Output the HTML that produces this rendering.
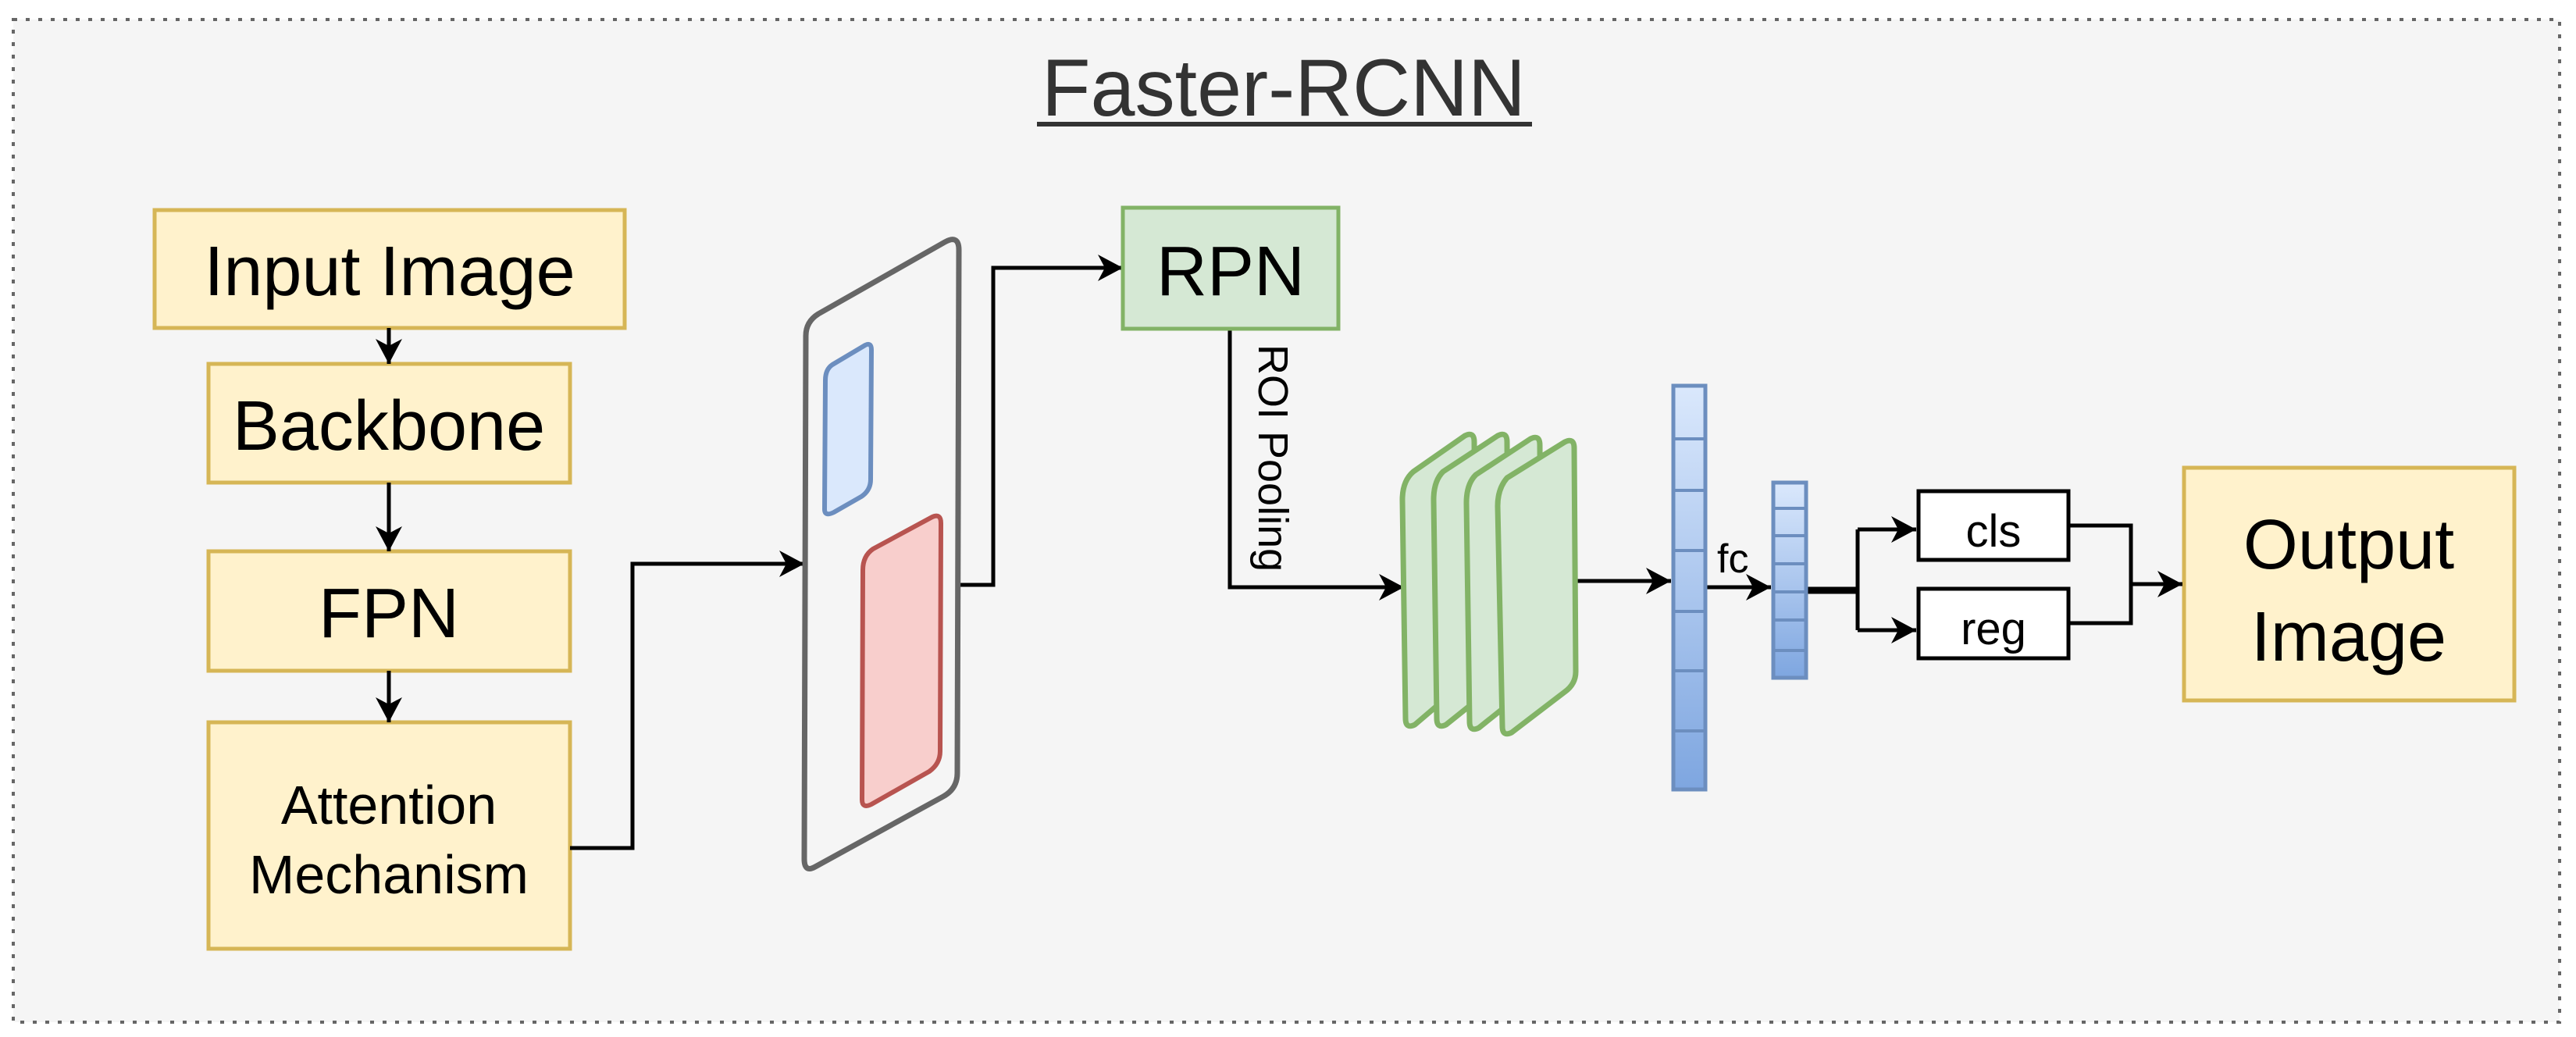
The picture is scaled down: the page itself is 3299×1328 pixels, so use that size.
<!DOCTYPE html>
<html><head><meta charset="utf-8"><style>html,body{margin:0;padding:0;background:#fff}svg{display:block}text{font-family:"Liberation Sans",Arial,sans-serif}</style></head>
<body>
<svg width="3299" height="1328" viewBox="0 0 3299 1328" xmlns="http://www.w3.org/2000/svg">
<defs>
<linearGradient id="g" x1="0" y1="0" x2="0" y2="1"><stop offset="0" stop-color="#dae8fc"/><stop offset="1" stop-color="#7ea6e0"/></linearGradient>
<marker id="a" markerUnits="userSpaceOnUse" markerWidth="40" markerHeight="40" viewBox="-34 -20 40 40" refX="0" refY="0" orient="auto"><path d="M0,0 L-32,-17 L-23,0 L-32,17 Z" fill="#000"/></marker>
</defs>
<rect x="17" y="25" width="3261" height="1284" fill="#f5f5f5" stroke="#666" stroke-width="4" stroke-dasharray="5 11"/>
<text x="1334" y="148" font-size="104" fill="#333" textLength="620" lengthAdjust="spacingAndGlyphs">Faster-RCNN</text>
<rect x="1328" y="156" width="634" height="6" fill="#333"/>

<g fill="#fff2cc" stroke="#d6b656" stroke-width="5">
<rect x="198" y="269" width="602" height="151"/>
<rect x="267" y="466" width="463" height="152"/>
<rect x="267" y="706" width="463" height="153"/>
<rect x="267" y="925" width="463" height="290"/>
<rect x="2797" y="599" width="423" height="298"/>
</g>
<g font-size="90" text-anchor="middle" fill="#000">
<text x="499" y="378">Input Image</text>
<text x="498" y="576">Backbone</text>
<text x="498" y="816">FPN</text>
<text x="498" y="1055" font-size="70">Attention</text>
<text x="498" y="1144" font-size="70">Mechanism</text>
<text x="3008" y="728">Output</text>
<text x="3008" y="846">Image</text>
</g>

<g stroke="#000" stroke-width="5" fill="none" marker-end="url(#a)">
<path d="M498,420 V466"/>
<path d="M498,618 V706"/>
<path d="M498,859 V925"/>
<path d="M730,1086 H810 V722 H1030"/>
<path d="M1230,749 H1272 V343 H1438"/>
<path d="M1575,421 V752 H1798"/>
<path d="M2018,744 H2140"/>
<path d="M2184,752 H2268"/>
<path d="M2379,678 H2454"/>
<path d="M2379,807 H2454"/>
<path d="M2729,748 H2795"/>
</g>
<g stroke="#000" stroke-width="5" fill="none">
<path d="M2379,678 V807"/>
<path d="M2649,673 H2729 V798 H2649"/>
</g>
<path d="M2314,756 H2379" stroke="#000" stroke-width="9"/>

<rect x="1438" y="266" width="276" height="155" fill="#d5e8d4" stroke="#82b366" stroke-width="5"/>
<text x="1576" y="378" font-size="90" text-anchor="middle">RPN</text>
<text transform="translate(1612,441) rotate(90)" font-size="54" fill="#000">ROI Pooling</text>

<path d="M1048,402 L1210,310 Q1228,300 1228,320 L1226,990 Q1226,1010 1208,1020 L1044,1110 Q1030,1118 1030,1100 L1032,430 Q1032,412 1048,402 Z" fill="none" stroke="#666" stroke-width="7" stroke-linejoin="round"/>
<path d="M1066,467 L1108,442 Q1116,438 1116,448 L1115,614 Q1115,628 1103,636 L1068,656 Q1056,662 1056,652 L1057,487 Q1057,473 1066,467 Z" fill="#dae8fc" stroke="#6c8ebf" stroke-width="6"/>
<path d="M1118,703 L1194,662 Q1205,657 1205,670 L1204,962 Q1204,978 1190,988 L1116,1030 Q1104,1036 1104,1024 L1105,730 Q1105,712 1118,703 Z" fill="#f8cecc" stroke="#b85450" stroke-width="6"/>

<g fill="#d5e8d4" stroke="#82b366" stroke-width="7" stroke-linejoin="round">
<path d="M1810,604 L1876,558 Q1888,552 1888,566 L1890,850 Q1890,862 1880,870 L1812,928 Q1800,934 1800,920 L1796,640 Q1796,616 1810,604 Z"/>
<path d="M1848,604 L1918,558 Q1930,552 1930,566 L1932,852 Q1932,864 1922,872 L1852,928 Q1840,934 1840,920 L1836,640 Q1836,616 1848,604 Z"/>
<path d="M1890,608 L1960,562 Q1972,556 1972,570 L1974,856 Q1974,868 1964,876 L1894,932 Q1882,938 1882,924 L1878,644 Q1878,620 1890,608 Z"/>
<path d="M1930,612 L2004,566 Q2016,560 2016,574 L2018,860 Q2018,876 2004,886 L1936,938 Q1924,944 1924,930 L1918,648 Q1918,626 1930,612 Z"/>
</g>

<rect x="2143" y="494" width="41" height="517" fill="url(#g)" stroke="#6c8ebf" stroke-width="5"/>
<g stroke="#6c8ebf" stroke-width="4">
<path d="M2143,562 H2184 M2143,628 H2184 M2143,705 H2184 M2143,783 H2184 M2143,859 H2184 M2143,936 H2184"/>
</g>
<rect x="2271" y="618" width="42" height="250" fill="url(#g)" stroke="#6c8ebf" stroke-width="5"/>
<g stroke="#6c8ebf" stroke-width="4">
<path d="M2271,651 H2313 M2271,686 H2313 M2271,722 H2313 M2271,758 H2313 M2271,794 H2313 M2271,833 H2313"/>
</g>
<text x="2199" y="733" font-size="52">fc</text>

<g fill="#fff" stroke="#000" stroke-width="5">
<rect x="2457" y="629" width="192" height="88"/>
<rect x="2457" y="754" width="192" height="89"/>
</g>
<text x="2553" y="700" font-size="58" text-anchor="middle">cls</text>
<text x="2553" y="825" font-size="58" text-anchor="middle">reg</text>
</svg>
</body></html>
